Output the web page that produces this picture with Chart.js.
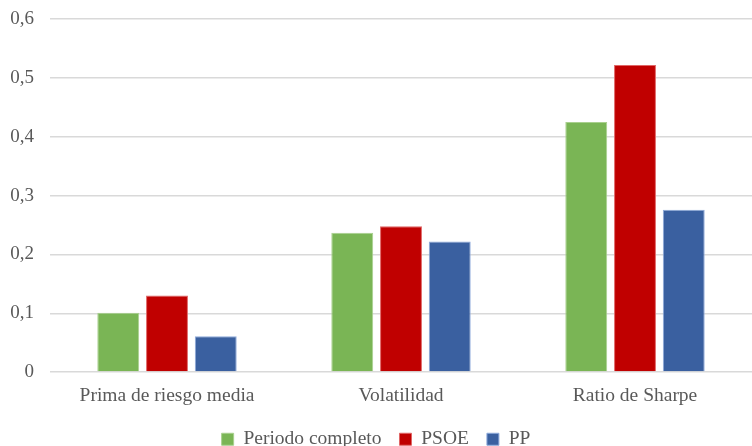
<!DOCTYPE html>
<html>
<head>
<meta charset="utf-8">
<script src="https://cdn.jsdelivr.net/npm/chart.js@4"></script>
<style>
    html, body { margin: 0; padding: 0; background: #ffffff; }
    #wrap { width: 752px; height: 446px; }
</style>
</head>
<body>
<div id="wrap"><canvas id="barChart"></canvas></div>
<script>
const categories = ["Prima de riesgo media", "Volatilidad", "Ratio de Sharpe"];
const periodoCompleto = [0.101, 0.237, 0.425];
const psoe = [0.130, 0.248, 0.522];
const pp = [0.061, 0.222, 0.276];
const yTicks = [0, 0.1, 0.2, 0.3, 0.4, 0.5, 0.6];

// legend keeps wide gaps between items but takes less height at the bottom
const legendTrim = {
    id: 'legendTrim',
    afterInit(chart) {
        const legend = chart.legend;
        if (!legend) return;
        const origFit = legend.fit;
        legend.fit = function () {
            origFit.call(this);
            this.height -= 13;
        };
    }
};

document.addEventListener('DOMContentLoaded', () => {
    Chart.defaults.color = '#595959';
    Chart.defaults.font.family = "'Liberation Serif', 'Times New Roman', serif";

    const ctx = document.getElementById('barChart').getContext('2d');
    new Chart(ctx, {
        type: 'bar',
        data: {
            labels: categories,
            datasets: [
                { label: 'Periodo completo', data: periodoCompleto, backgroundColor: '#7ab555', borderColor: '#a9d08e', borderWidth: 1 },
                { label: 'PSOE', data: psoe, backgroundColor: '#c00000', borderColor: '#e06666', borderWidth: 1 },
                { label: 'PP', data: pp, backgroundColor: '#3a60a0', borderColor: '#8eaadb', borderWidth: 1 }
            ]
        },
        plugins: [legendTrim],
        options: {
            responsive: true,
            maintainAspectRatio: false,
            animation: false,
            datasets: { bar: { categoryPercentage: 0.625, barPercentage: 0.86 } },
            layout: { padding: 0 },
            plugins: {
                tooltip: { enabled: false },
                legend: {
                    position: 'bottom',
                    labels: {
                        boxWidth: 12, boxHeight: 12, padding: 18,
                        font: { size: 19.5 }, color: '#595959'
                    }
                }
            },
            scales: {
                x: {
                    grid: { display: false },
                    border: { display: false },
                    ticks: { font: { size: 19.5 }, color: '#595959', padding: 4, maxRotation: 0 }
                },
                y: {
                    min: 0, max: 0.6,
                    afterBuildTicks: axis => { axis.ticks = yTicks.map(v => ({ value: v })); },
                    afterFit: axis => { axis.width = 50; axis.paddingTop = 19; },
                    grid: { color: '#d9d9d9', lineWidth: 1.5, drawTicks: false },
                    border: { display: false },
                    ticks: {
                        font: { size: 19 }, color: '#595959', padding: 16,
                        callback: v => String(Math.round(v * 10) / 10).replace('.', ',')
                    }
                }
            }
        }
    });
});
</script>
</body>
</html>
